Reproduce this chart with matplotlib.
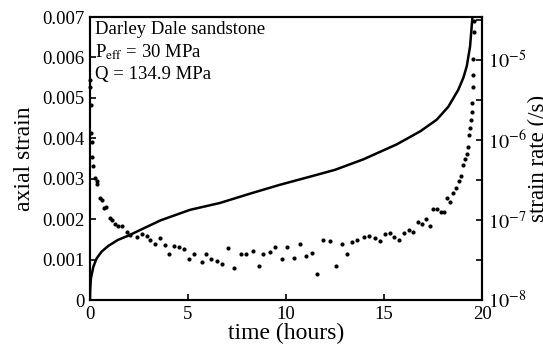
import numpy as np
import matplotlib
matplotlib.use("Agg")
import matplotlib.pyplot as plt

plt.rcParams['font.family'] = ['Liberation Serif', 'DejaVu Serif']
plt.rcParams['mathtext.fontset'] = 'stix'

# creep curve: time (hours) vs axial strain
curve_time = [0, 0.01, 0.05, 0.17, 0.34, 0.6, 0.94, 1.44, 1.95, 2.64, 3.6, 5.1,
              6.63, 8.16, 9.69, 11.22, 12.5, 13.95, 15.65, 16.84, 17.69, 18.28,
              18.79, 19.05, 19.22, 19.39, 19.5, 19.56]
curve_strain = [0, 0.00025, 0.00054, 0.00082, 0.00103, 0.0012, 0.00134, 0.00149,
                0.00159, 0.00175, 0.00197, 0.00223, 0.00240, 0.00263, 0.00285,
                0.00305, 0.00322, 0.00348, 0.00385, 0.00417, 0.00446, 0.00478,
                0.0052, 0.0055, 0.00578, 0.00627, 0.00693, 0.0073]

# strain rate points: time (hours) vs log10 strain rate (/s)
rate_time = [0.0, 0.01, 0.03, 0.04, 0.08, 0.12, 0.17, 0.26, 0.34, 0.37, 0.51, 0.60,
             0.71, 0.80, 1.02, 1.11, 1.28, 1.45, 1.62, 1.87, 2.04, 2.38, 2.64, 2.89,
             3.06, 3.32, 3.57, 3.83, 4.05, 4.29, 4.56, 4.81, 5.05, 5.31, 5.70, 5.90,
             6.16, 6.47, 6.75, 7.06, 7.36, 7.69, 7.96, 8.33, 8.64, 8.84, 9.18, 9.45,
             9.78, 10.04, 10.41, 10.71, 11.0, 11.31, 11.57, 11.9, 12.24, 12.55, 12.84,
             13.1, 13.35, 13.61, 13.98, 14.25, 14.54, 14.8, 15.05, 15.31, 15.53, 15.78,
             16.04, 16.29, 16.49, 16.73, 16.94, 17.13, 17.35, 17.52, 17.69, 17.91,
             18.06, 18.23, 18.37, 18.5, 18.67, 18.84, 18.91, 19.05, 19.15, 19.22,
             19.30, 19.35, 19.39, 19.42, 19.47, 19.5, 19.52, 19.55, 19.56, 19.59, 19.61]
rate_log = [-5.25, -5.34, -5.56, -5.91, -6.02, -6.21, -6.32, -6.48, -6.51, -6.55,
            -6.73, -6.75, -6.85, -6.84, -6.98, -7.0, -7.05, -7.08, -7.08, -7.15,
            -7.19, -7.21, -7.17, -7.2, -7.25, -7.3, -7.23, -7.31, -7.425, -7.32,
            -7.34, -7.36, -7.49, -7.42, -7.52, -7.43, -7.49, -7.51, -7.55, -7.35,
            -7.6, -7.42, -7.42, -7.39, -7.57, -7.43, -7.40, -7.34, -7.49, -7.34,
            -7.47, -7.3, -7.45, -7.41, -7.675, -7.25, -7.26, -7.57, -7.30, -7.42,
            -7.28, -7.25, -7.21, -7.2, -7.23, -7.26, -7.18, -7.16, -7.21, -7.25,
            -7.16, -7.125, -7.15, -7.025, -7.05, -6.99, -7.07, -6.86, -6.86, -6.9,
            -6.9, -6.73, -6.78, -6.66, -6.6, -6.51, -6.45, -6.31, -6.24, -6.17,
            -6.08, -5.94, -5.85, -5.75, -5.65, -5.54, -5.33, -5.19, -4.99, -4.65, -4.51]

rate = 10.0 ** np.array(rate_log)

fig = plt.figure(figsize=(5.43, 3.52), dpi=100)
ax = fig.add_axes([0.1657, 0.1477, 0.722, 0.804])
ax.plot(curve_time, curve_strain, color='black', lw=1.8, zorder=3)
ax.set_xlim(0, 20)
ax.set_ylim(0, 0.007)
ax.set_xticks([0, 5, 10, 15, 20])
ax.set_yticks(np.arange(0, 0.0071, 0.001))
ax.set_yticklabels(['0', '0.001', '0.002', '0.003', '0.004', '0.005', '0.006', '0.007'])
ax.set_xlabel('time (hours)', fontsize=17, labelpad=0)
ax.set_ylabel('axial strain', fontsize=17, labelpad=5)
ax.tick_params(direction='in', length=4, width=1.2, labelsize=13.5, pad=4)

ax2 = ax.twinx()
ax2.plot(rate_time, rate, 'o', color='black', ms=3, mec='none', clip_on=False)
ax2.set_yscale('log')
ax2.set_ylim(1e-8, 10 ** -4.46)
ax2.set_yticks([1e-8, 1e-7, 1e-6, 1e-5])
ax2.set_yticklabels([r'$10^{-8}$', r'$10^{-7}$', r'$10^{-6}$', r'$10^{-5}$'])
ax2.set_yticks([10 ** -7.5, 10 ** -6.5, 10 ** -5.5, 10 ** -4.5], minor=True)
ax2.yaxis.set_minor_formatter(matplotlib.ticker.NullFormatter())
ax2.tick_params(which='both', direction='in', length=4, width=1.2, labelsize=14.5, pad=4)
ax2.set_ylabel('strain rate (/s)', fontsize=16.5, labelpad=1.5)

for a in (ax, ax2):
    for s in a.spines.values():
        s.set_linewidth(1.5)

ax.text(0.012, 0.985, 'Darley Dale sandstone\nP$_{\\rm eff}$ = 30 MPa\nQ = 134.9 MPa',
        transform=ax.transAxes, va='top', ha='left', fontsize=13.5, linespacing=1.3)

fig.savefig('out.png', dpi=100)
